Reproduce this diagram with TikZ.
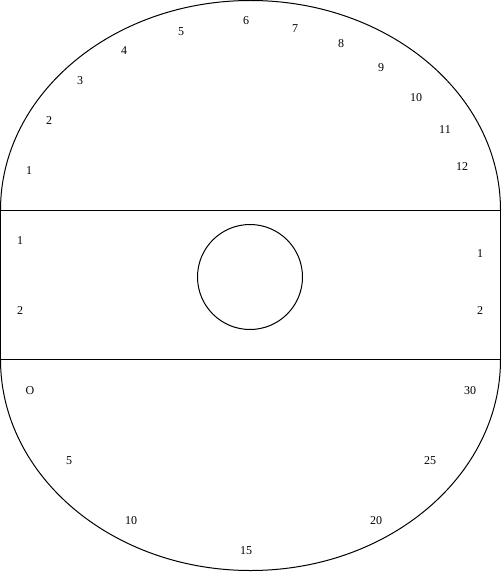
\documentclass[tikz,border=0pt]{standalone}
\usepackage{fontspec}
\setmainfont{Liberation Serif}
\begin{document}
\begin{tikzpicture}[x=1pt,y=-1pt,
  outline/.style={draw=black,line width=1pt},
  lbl/.style={inner sep=0pt,font=\fontsize{12}{14}\selectfont}]
\useasboundingbox (0,0) rectangle (501,572);
% top half ellipse
\draw[outline] (0.5,210) arc[start angle=180,end angle=0,x radius=250,y radius=-209.5];
% rectangle
\draw[outline] (0.5,210) rectangle (500.5,359.5);
% bottom half ellipse
\draw[outline] (0.5,359.5) arc[start angle=180,end angle=360,x radius=250,y radius=-211];
% circle
\node[outline,circle,minimum size=105pt,inner sep=0pt] (c) at (250,277) {};
% top labels
\foreach \t/\x/\y [count=\i] in {1/29/171,2/49/121,3/80/81,4/124/51,5/181/32,6/246/21,7/295/29,8/341/44,9/381/68,10/416/98,11/445/130,12/462/167}
  \node[lbl] (t\i) at (\x,\y) {\t};
% middle labels
\node[lbl] (l1) at (20,241) {1};
\node[lbl] (l2) at (20,311) {2};
\node[lbl] (r1) at (480,254) {1};
\node[lbl] (r2) at (480,311) {2};
% bottom labels
\foreach \t/\x/\y [count=\i] in {O/30/391,5/69/461,10/131/521,15/246/551,20/376/521,25/430/461,30/470/391}
  \node[lbl] (b\i) at (\x,\y) {\t};
\end{tikzpicture}
\end{document}
